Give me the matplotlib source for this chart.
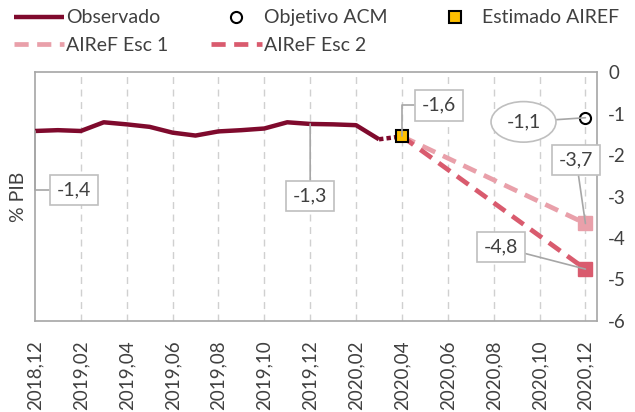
import numpy as np
import matplotlib
matplotlib.use("Agg")
import matplotlib.pyplot as plt

plt.rcParams['font.family'] = ['Lato', 'DejaVu Sans']

# meses de 2018,12 a 2020,12
meses = ["2018,12", "2019,01", "2019,02", "2019,03", "2019,04", "2019,05", "2019,06",
         "2019,07", "2019,08", "2019,09", "2019,10", "2019,11", "2019,12", "2020,01",
         "2020,02", "2020,03", "2020,04", "2020,05", "2020,06", "2020,07", "2020,08",
         "2020,09", "2020,10", "2020,11", "2020,12"]

observado = [-1.42, -1.40, -1.42, -1.21, -1.26, -1.32, -1.46, -1.53, -1.43, -1.40,
             -1.36, -1.21, -1.25, -1.26, -1.28, -1.62]
observado_punteado = [-1.62, -1.55]       # 2020,03 -> 2020,04
esc1 = [-1.55, -3.65]                     # 2020,04 -> 2020,12
esc2 = [-1.55, -4.75]
objetivo_acm = -1.1
estimado_airef = -1.55

c_obs = "#7F0A2D"
c_esc1 = "#E9A0AA"
c_esc2 = "#D95B6E"
c_txt = "#404040"
c_gris = "#A6A6A6"

x = np.arange(len(meses))
i_abr = meses.index("2020,04")
i_mar = meses.index("2020,03")
i_dic = meses.index("2020,12")

fig = plt.figure(figsize=(6.35, 4.12), dpi=100)
ax = fig.add_axes([0.055, 0.221, 0.885, 0.604])

ax.plot(x[:len(observado)], observado, color=c_obs, lw=3.2, solid_capstyle='butt',
        label="Observado", zorder=3)
ax.plot([x[i_mar], x[i_abr]], observado_punteado, color=c_obs, lw=3.2,
        dashes=(1.0, 0.7), zorder=3)
ax.plot([x[i_abr], x[i_dic]], esc1, color=c_esc1, lw=3.4, dashes=(3, 1.8),
        label="AIReF Esc 1", zorder=3)
ax.plot([x[i_abr], x[i_dic]], esc2, color=c_esc2, lw=3.4, dashes=(3, 1.8),
        label="AIReF Esc 2", zorder=3)
ax.plot(x[i_dic], esc1[-1], 's', color=c_esc1, ms=10, zorder=4)
ax.plot(x[i_dic], esc2[-1], 's', color=c_esc2, ms=10, zorder=4)
ax.plot(x[i_dic], objetivo_acm, 'o', mfc='white', mec='black', mew=1.5, ms=8,
        ls='none', label="Objetivo ACM", zorder=5)
ax.plot(x[i_abr], estimado_airef, 's', mfc='#FFC000', mec='black', mew=1.5, ms=8,
        ls='none', label="Estimado AIREF", zorder=5)

ax.set_xlim(0, 24.5)
ax.set_ylim(-6, 0)
ax.set_xticks(x[::2])
ax.set_xticklabels(meses[::2], rotation=90, fontsize=13.5, color=c_txt)
ax.yaxis.tick_right()
ax.set_yticks(np.arange(-6, 1, 1))
ax.set_yticklabels([str(v) for v in range(-6, 1)], fontsize=13.5, color=c_txt)
ax.tick_params(length=0, pad=8)
ax.tick_params(axis='x', pad=14)
ax.set_ylabel("% PIB", fontsize=14, color=c_txt, labelpad=6)
ax.yaxis.set_label_position('left')

for s in ax.spines.values():
    s.set_color(c_gris)
    s.set_linewidth(1.2)
for xv in x[2::2]:
    ax.axvline(xv, color='#D0D0D0', lw=1, dashes=(5, 4), zorder=1)

caja = dict(boxstyle="square,pad=0.35", fc='white', ec='#BFBFBF', lw=1.2)
flecha = dict(arrowstyle='-', color=c_gris, lw=1.2, shrinkA=0, shrinkB=0)

def etiqueta(texto, xy, xytext, conn="arc3", estilo=caja):
    ax.annotate(texto, xy=xy, xytext=xytext, fontsize=14, color=c_txt,
                ha='center', va='center', bbox=estilo,
                arrowprops=dict(flecha, connectionstyle=conn), zorder=6)

etiqueta("-1,4", (0, observado[0]), (1.7, -2.84), "angle,angleA=0,angleB=90,rad=0")
etiqueta("-1,3", (12, observado[12]), (12.0, -2.99))
etiqueta("-1,6", (i_abr, estimado_airef), (17.6, -0.80), "angle,angleA=0,angleB=90,rad=0")
etiqueta("-1,1", (i_dic, objetivo_acm), (21.3, -1.20),
         estilo=dict(boxstyle="ellipse,pad=0.3", fc='white', ec='#BFBFBF', lw=1.2))
etiqueta("-3,7", (i_dic, esc1[-1]), (23.6, -2.12))
etiqueta("-4,8", (i_dic, esc2[-1]), (20.3, -4.22))

h, l = ax.get_legend_handles_labels()
orden = ["Observado", "AIReF Esc 1", "Objetivo ACM", "AIReF Esc 2", "Estimado AIREF"]
hh = [h[l.index(n)] for n in orden]
leg = fig.legend(hh, orden, ncol=3, loc='upper left', bbox_to_anchor=(0.0, 1.01),
                 frameon=False, fontsize=14, handlelength=2.6, handletextpad=0.1,
                 columnspacing=2.2, labelspacing=0.55, borderaxespad=0.3)
for t in leg.get_texts():
    t.set_color(c_txt)

fig.savefig("out.png", dpi=100)
